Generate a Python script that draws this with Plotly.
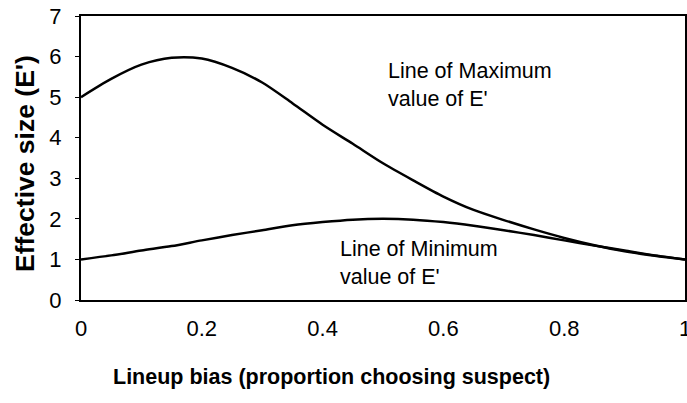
import plotly.graph_objects as go

# Lineup bias (proportion choosing suspect)
bias = [0.0, 0.05, 0.10, 0.15, 0.20, 0.25, 0.30, 0.35, 0.40, 0.45, 0.50,
        0.55, 0.60, 0.65, 0.70, 0.75, 0.80, 0.85, 0.90, 0.95, 1.0]
# Line of maximum value of E'
e_max = [5.0, 5.45, 5.8, 5.97, 5.95, 5.72, 5.36, 4.85, 4.32, 3.85, 3.37,
         2.95, 2.55, 2.22, 1.97, 1.74, 1.53, 1.35, 1.2, 1.09, 1.0]
# Line of minimum value of E'
e_min = [1.0, 1.1, 1.22, 1.33, 1.47, 1.6, 1.72, 1.84, 1.92, 1.98, 2.0,
         1.98, 1.92, 1.83, 1.72, 1.6, 1.47, 1.34, 1.22, 1.1, 1.0]

x_ticks = [0, 0.2, 0.4, 0.6, 0.8, 1]
x_tick_text = ["0", "0.2", "0.4", "0.6", "0.8", "1"]
y_ticks = [0, 1, 2, 3, 4, 5, 6, 7]

FONT = "Liberation Sans, Arial, sans-serif"

fig = go.Figure()
fig.add_trace(go.Scatter(x=bias, y=e_max, mode="lines",
                         line=dict(color="black", width=2.5, shape="spline", smoothing=0.8),
                         showlegend=False))
fig.add_trace(go.Scatter(x=bias, y=e_min, mode="lines",
                         line=dict(color="black", width=2.5, shape="spline", smoothing=0.8),
                         showlegend=False))

fig.update_layout(
    width=687, height=403,
    margin=dict(l=81, r=2, t=16, b=103),
    paper_bgcolor="white", plot_bgcolor="white",
    font=dict(family=FONT, color="black"),
    xaxis=dict(range=[0, 1], tickvals=x_ticks, ticktext=x_tick_text,
               showgrid=False, zeroline=False, showline=True, mirror=True,
               linecolor="black", linewidth=2, ticks="", automargin=False,
               ticklabeloverflow="allow",
               tickfont=dict(size=22, family=FONT, color="black"),
               ticklabelstandoff=8),
    yaxis=dict(range=[0, 7], tickvals=y_ticks, automargin=False,
               showgrid=False, zeroline=False, showline=True, mirror=True,
               linecolor="black", linewidth=2, ticks="outside", ticklen=4,
               tickwidth=1, tickcolor="black",
               tickfont=dict(size=22, family=FONT, color="black"),
               ticklabelstandoff=9),
    annotations=[
        dict(text="Lineup bias (proportion choosing suspect)", xref="paper", yref="paper",
             x=0.414, y=-0.271, xanchor="center", yanchor="middle", showarrow=False,
             font=dict(size=21.5, family=FONT, color="black", weight="bold")),
        dict(text="Effective size (E')", xref="paper", yref="paper",
             x=-0.0927, y=0.479, xanchor="center", yanchor="middle", showarrow=False,
             textangle=-90,
             font=dict(size=26.5, family=FONT, color="black", weight="bold")),
        dict(text="Line of Maximum<br>value of E'", xref="x", yref="y",
             x=0.505, y=5.31, xanchor="left", yanchor="middle", align="left",
             showarrow=False, font=dict(size=21.5, family=FONT, color="black")),
        dict(text="Line of Minimum<br>value of E'", xref="x", yref="y",
             x=0.426, y=0.9, xanchor="left", yanchor="middle", align="left",
             showarrow=False, font=dict(size=21.5, family=FONT, color="black")),
    ],
)

fig.write_html("out.html", config={"displayModeBar": False},
               post_script="document.body.style.margin='0';document.body.style.overflow='hidden';")
